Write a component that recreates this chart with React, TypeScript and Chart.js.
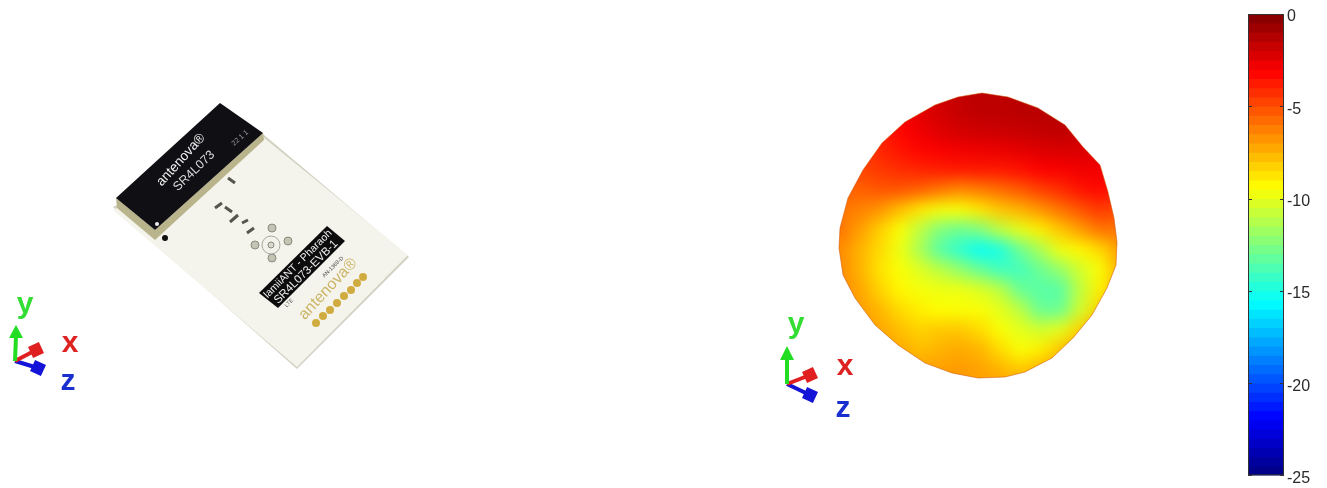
import React, { useEffect, useRef } from "react";
import { Chart, registerables } from "chart.js";

Chart.register(...registerables);

const WIDTH = 1327;
const HEIGHT = 488;

// Colour bar
const barTicks = [0, -5, -10, -15, -20, -25];
const barLevels = [
  0, -0.5, -1, -1.5, -2, -2.5, -3, -3.5, -4, -4.5, -5, -5.5, -6, -6.5, -7, -7.5, -8, -8.5, -9, -9.5,
  -10, -10.5, -11, -11.5, -12, -12.5, -13, -13.5, -14, -14.5, -15, -15.5, -16, -16.5, -17, -17.5, -18,
  -18.5, -19, -19.5, -20, -20.5, -21, -21.5, -22, -22.5, -23, -23.5, -24, -24.5,
];

// Radiation pattern, gain in dB sampled over the picture
const patternX = [820, 840, 860, 880, 900, 920, 940, 960, 980, 1000, 1020, 1040, 1060, 1080, 1100, 1120, 1140];
const patternY = [70, 90, 110, 130, 150, 170, 190, 210, 230, 250, 270, 290, 310, 330, 350, 370, 390, 410];
const patternDb = [
  [-4, -4, -4, -3.5, -3, -2.5, -2, -1.7, -1.5, -1.5, -1.5, -1.5, -1.5, -1.5, -2, -2, -2],
  [-4, -4, -4, -3.5, -3, -2.5, -2, -1.7, -1.5, -1.5, -1.5, -1.5, -1.5, -1.5, -2, -2, -2],
  [-4, -4, -4, -3.5, -3, -2.5, -2, -1.7, -1.5, -1.5, -1.4, -1.4, -1.4, -1.5, -2, -2, -2],
  [-4.5, -4.5, -4.5, -4, -3.2, -2.7, -2.3, -2, -1.9, -1.8, -1.7, -1.6, -1.5, -1.7, -2.2, -2.5, -2.5],
  [-4.5, -4.5, -4.5, -4, -3.6, -3.2, -3, -2.8, -2.7, -2.6, -2.5, -2.3, -2.2, -2.2, -2.5, -2.8, -2.8],
  [-5, -5, -4.8, -4.5, -4.2, -4, -3.8, -3.7, -3.7, -3.7, -3.5, -3.1, -3, -2.8, -2.8, -3.2, -3.2],
  [-5.5, -5.5, -5.5, -5.2, -5.2, -5.5, -6, -6.5, -6.2, -5.8, -5.3, -4.7, -4.2, -3.6, -3.3, -3.8, -3.8],
  [-6, -6, -6.3, -6.8, -7.8, -8.8, -9.6, -9.5, -8.8, -8, -7.5, -6.8, -6, -5.2, -4.5, -5, -5],
  [-6, -6, -7, -8.2, -9.5, -11, -12.5, -13, -12.5, -11, -10, -9, -8, -7, -6, -6, -6],
  [-6.5, -6.5, -7.5, -8.5, -9.8, -11.5, -13.5, -14.5, -15.5, -15, -13, -11.5, -9.8, -9.2, -8.5, -7, -7],
  [-6.5, -6.5, -7.5, -8.7, -9.5, -10.2, -11, -12, -13, -14, -14, -13, -12, -10.5, -9.5, -7.5, -7.5],
  [-6.5, -6.5, -7.2, -8.3, -9.2, -9.6, -9.8, -9.8, -10.2, -11, -13, -13.5, -13.5, -11, -9, -7.5, -7.5],
  [-6.5, -6.5, -7, -7.6, -8.5, -9, -9.4, -9.5, -9.5, -10, -11, -13, -13, -10.5, -8.3, -7, -7],
  [-6.5, -6.5, -6.8, -7.2, -7.8, -8.3, -8, -8, -8.5, -9.5, -10, -10.5, -10, -8.3, -7, -7, -7],
  [-6.5, -6.5, -6.8, -7, -7.3, -7.8, -7.5, -7.3, -7.5, -8.5, -9.5, -9, -8, -7, -7, -7, -7],
  [-6.5, -6.5, -6.8, -7, -7, -7, -7, -6.9, -7.1, -7.5, -8, -7.5, -7, -7, -7, -7, -7],
  [-6.5, -6.5, -6.8, -7, -7, -7, -7, -6.9, -7, -7, -7, -7, -7, -7, -7, -7, -7],
  [-6.5, -6.5, -6.8, -7, -7, -7, -7, -6.9, -7, -7, -7, -7, -7, -7, -7, -7, -7],
];
const patternOutline: [number, number][] = [
  [982, 93], [1008, 97], [1038, 108], [1065, 125], [1083, 147], [1100, 165], [1108, 192], [1114, 218],
  [1117, 242], [1116, 265], [1107, 288], [1092, 315], [1073, 338], [1052, 358], [1025, 372], [1005, 377],
  [978, 378], [952, 373], [925, 363], [898, 345], [875, 325], [855, 298], [843, 275], [839, 248],
  [840, 228], [848, 198], [863, 170], [882, 143], [905, 122], [935, 105], [958, 97], [982, 93],
];

// Board photograph, traced as shapes
const boardShape: [number, number][] = [[113, 210], [263, 137], [408, 255], [297, 367], [113, 210]];
const boardEdge: [number, number][] = [[113, 207], [263, 134], [409, 257], [297, 369], [113, 207]];
const moduleSide: [number, number][] = [[116, 198], [117, 208], [155, 240], [264, 140], [263, 133], [155, 230], [116, 198]];
const moduleTop: [number, number][] = [[220, 103], [263, 133], [155, 230], [116, 198], [220, 103]];
const labelPlate: [number, number][] = [[327, 226], [345, 241], [278, 308], [259, 293], [327, 226]];
const goldDots: [number, number][] = [[316, 323], [323, 316], [330, 310], [337, 303], [344, 296], [351, 290], [357, 283], [363, 277]];
const silverPads: [number, number][] = [[272, 228], [288, 241], [272, 258], [255, 245]];
const connectorRing: [number, number][] = [[271, 245]];
const blackHole: [number, number][] = [[165, 238]];
const whiteHole: [number, number][] = [[157, 224]];
const parts: ([number, number] | null)[] = [
  [228, 178], [235, 183], null,
  [215, 208], [222, 203], null,
  [225, 207], [232, 212], null,
  [230, 222], [238, 215], null,
  [242, 223], [248, 220], null,
  [247, 233], [254, 228],
];

// Orientation triads
const triadA = { base: [15, 361], y: [16, 336], tipY: [16, 325], x: [36, 350], z: [38, 368] };
const triadB = { base: [787, 384], y: [787, 358], tipY: [787, 346], x: [810, 375], z: [810, 395] };

// Texts
const labels = [
  { text: "antenova®", x: 181, y: 160, rot: -48, font: "13.5px 'Liberation Sans'", color: "#f2f2f2" },
  { text: "SR4L073", x: 194, y: 171, rot: -44, font: "12.5px 'Liberation Sans'", color: "#d8d8d8" },
  { text: "22 1 1", x: 240, y: 138, rot: -42, font: "7px 'Liberation Sans'", color: "#999999" },
  { text: "lamiiANT - Pharaoh", x: 298, y: 264, rot: -45, font: "10.5px 'Liberation Sans'", color: "#f0f0f0" },
  { text: "SR4L073-EVB-1", x: 306, y: 272, rot: -45, font: "11.5px 'Liberation Sans'", color: "#f0f0f0" },
  { text: "AN-1368-D", x: 333, y: 267, rot: -45, font: "5.5px 'Liberation Sans'", color: "#444444" },
  { text: "LTE", x: 289, y: 303, rot: -45, font: "5.5px 'Liberation Sans'", color: "#555555" },
  { text: "antenova®", x: 328, y: 289, rot: -47, font: "16px 'Liberation Sans'", color: "#cdb568" },
];
const triadLabels = [
  { text: "y", x: 25, y: 313, color: "#33dd33" },
  { text: "x", x: 70, y: 352, color: "#dd2222" },
  { text: "z", x: 68, y: 390, color: "#1a2fd0" },
  { text: "y", x: 796, y: 333, color: "#33dd33" },
  { text: "x", x: 845, y: 375, color: "#dd2222" },
  { text: "z", x: 843, y: 417, color: "#1a2fd0" },
];

function jet(db: number): string {
  const t = (db + 25) / 25;
  const ch = (c: number) => Math.round(255 * Math.max(0, Math.min(1, 1.5 - Math.abs(4 * t - c))));
  return `rgb(${ch(3)},${ch(2)},${ch(1)})`;
}

const pts = (list: ([number, number] | null)[]) =>
  list.map((p) => (p ? { x: p[0], y: p[1] } : { x: NaN, y: NaN }));

function shape(list: [number, number][], fill: string, stroke = fill, width = 0) {
  return {
    data: pts(list),
    showLine: true,
    fill: "shape",
    backgroundColor: fill,
    borderColor: stroke,
    borderWidth: width,
    pointRadius: 0,
    tension: 0,
    clip: false,
  };
}
function dots(list: [number, number][], color: string, radius: number, stroke = color, width = 0, style = "circle", rotation = 0) {
  return {
    data: pts(list),
    showLine: false,
    pointStyle: style,
    rotation,
    pointRadius: radius,
    pointBackgroundColor: color,
    pointBorderColor: stroke,
    pointBorderWidth: width,
    clip: false,
  };
}
function stroke(list: ([number, number] | null)[], color: string, width: number) {
  return {
    data: pts(list),
    showLine: true,
    borderColor: color,
    borderWidth: width,
    pointRadius: 0,
    spanGaps: false,
    clip: false,
  };
}
function triad(t: typeof triadA) {
  const b = t.base as [number, number];
  return [
    stroke([b, t.y as [number, number]], "#22dd22", 4),
    shape([t.tipY as [number, number], [t.y[0] - 7, t.y[1] + 2], [t.y[0] + 7, t.y[1] + 2], t.tipY as [number, number]], "#22dd22"),
    stroke([b, t.x as [number, number]], "#e02020", 4),
    dots([t.x as [number, number]], "#e02020", 8.5, "#e02020", 0, "rect", 65),
    stroke([b, t.z as [number, number]], "#1414d8", 4),
    dots([t.z as [number, number]], "#1414d8", 8.5, "#1414d8", 0, "rect", 25),
  ];
}

export default function App() {
  const sceneRef = useRef<HTMLCanvasElement>(null);
  const ballRef = useRef<HTMLCanvasElement>(null);
  const barRef = useRef<HTMLCanvasElement>(null);

  useEffect(() => {
    const cells: { x: number; y: number }[] = [];
    const cellColors: string[] = [];
    patternDb.forEach((row, r) =>
      row.forEach((v, c) => {
        cells.push({ x: patternX[c], y: patternY[r] });
        cellColors.push(jet(v));
      })
    );

    const plainOptions: any = {
      animation: false,
      responsive: false,
      layout: { padding: 0, autoPadding: false },
      plugins: { legend: { display: false }, tooltip: { enabled: false } },
      scales: {
        x: { type: "linear", display: false, min: 0, max: WIDTH },
        y: { type: "linear", display: false, min: 0, max: HEIGHT, reverse: true },
      },
    };

    const ball = new Chart(ballRef.current!, {
      type: "scatter",
      data: {
        datasets: [
          {
            data: cells,
            showLine: false,
            pointStyle: "rect",
            pointRadius: 14.5,
            pointBorderWidth: 0,
            pointBackgroundColor: cellColors,
            clip: false,
          },
        ],
      },
      options: plainOptions,
    } as any);

    // Datasets are painted last-to-first, so the top-most comes first.
    const datasets: any[] = [
      ...triad(triadA),
      ...triad(triadB),
      dots(whiteHole, "#eeeeee", 2),
      dots(blackHole, "#111111", 3),
      dots(goldDots, "#d0ac40", 4),
      dots(connectorRing, "#d8d8cc", 3, "#888880", 1),
      dots(connectorRing, "#f2f2ea", 9, "#a8a89e", 1),
      dots(silverPads, "#c4c4b4", 4, "#8a8a80", 1),
      stroke(parts, "#55554e", 3),
      shape(labelPlate, "#0c0c0c"),
      shape(moduleTop, "#101014"),
      shape(moduleSide, "#b9b48c"),
      shape(boardShape, "#f4f4ec"),
      shape(boardEdge, "#d2d2c2"),
      stroke(patternOutline, "rgba(205,85,10,0.55)", 1),
    ];

    const textPaint = {
      id: "textPaint",
      afterDatasetsDraw(chart: Chart) {
        const { ctx, scales } = chart;
        ctx.save();
        labels.forEach((l) => {
          ctx.save();
          ctx.translate(scales.x.getPixelForValue(l.x), scales.y.getPixelForValue(l.y));
          ctx.rotate((l.rot * Math.PI) / 180);
          ctx.font = l.font;
          ctx.fillStyle = l.color;
          ctx.textAlign = "center";
          ctx.textBaseline = "middle";
          ctx.fillText(l.text, 0, 0);
          ctx.restore();
        });
        triadLabels.forEach((l) => {
          ctx.font = "bold 30px 'Liberation Sans'";
          ctx.fillStyle = l.color;
          ctx.textAlign = "center";
          ctx.textBaseline = "alphabetic";
          ctx.fillText(l.text, scales.x.getPixelForValue(l.x), scales.y.getPixelForValue(l.y));
        });
        ctx.restore();
      },
    };

    const scene = new Chart(sceneRef.current!, {
      type: "scatter",
      data: { datasets },
      options: plainOptions,
      plugins: [textPaint],
    } as any);

    const barFrame = {
      id: "barFrame",
      afterDraw(chart: Chart) {
        const { ctx, chartArea: a, scales } = chart;
        ctx.save();
        ctx.strokeStyle = "#333333";
        ctx.lineWidth = 1;
        ctx.strokeRect(a.left + 0.5, a.top + 0.5, a.width - 1, a.height - 1);
        barTicks.forEach((t) => {
          const y = Math.round(scales.y.getPixelForValue(t)) + 0.5;
          ctx.beginPath();
          ctx.moveTo(a.left, y);
          ctx.lineTo(a.left + 4, y);
          ctx.moveTo(a.right - 4, y);
          ctx.lineTo(a.right, y);
          ctx.stroke();
        });
        ctx.restore();
      },
    };

    const bar = new Chart(barRef.current!, {
      type: "bar",
      data: {
        labels: ["dB"],
        datasets: barLevels.map((lvl) => ({
          data: [lvl - 0.5],
          backgroundColor: jet(lvl - 0.25),
          borderWidth: 0,
          barPercentage: 1,
          categoryPercentage: 1,
        })),
      },
      options: {
        animation: false,
        responsive: false,
        layout: { padding: { top: 14, bottom: 11, left: 0, right: 0 } },
        plugins: { legend: { display: false }, tooltip: { enabled: false } },
        scales: {
          x: { display: false, stacked: true },
          y: {
            position: "right",
            min: -25,
            max: 0,
            afterFit: (s: any) => {
              s.width = 43;
            },
            afterBuildTicks: (s: any) => {
              s.ticks = barTicks.map((value) => ({ value }));
            },
            grid: { display: false, drawTicks: false },
            border: { display: false },
            ticks: {
              padding: 3,
              labelOffset: 3,
              color: "#2a2a2a",
              font: { family: "'Liberation Sans'", size: 16 },
            },
          },
        },
      },
      plugins: [barFrame],
    } as any);

    return () => {
      scene.destroy();
      ball.destroy();
      bar.destroy();
    };
  }, []);

  const clipPath = `polygon(${patternOutline.map(([x, y]) => `${x}px ${y}px`).join(",")})`;
  const layer: React.CSSProperties = { position: "absolute", left: 0, top: 0, width: WIDTH, height: HEIGHT };

  return (
    <div style={{ position: "fixed", left: 0, top: 0, width: WIDTH, height: HEIGHT, background: "#fff", overflow: "hidden" }}>
      <div style={{ ...layer, clipPath }}>
        <canvas ref={ballRef} width={WIDTH} height={HEIGHT} style={{ ...layer, filter: "blur(8px)" }} />
      </div>
      <canvas ref={sceneRef} width={WIDTH} height={HEIGHT} style={{ ...layer, filter: "blur(0.6px)" }} />
      <canvas ref={barRef} width={79} height={HEIGHT} style={{ position: "absolute", left: 1248, top: 0, width: 79, height: HEIGHT, filter: "blur(0.4px)" }} />
    </div>
  );
}
